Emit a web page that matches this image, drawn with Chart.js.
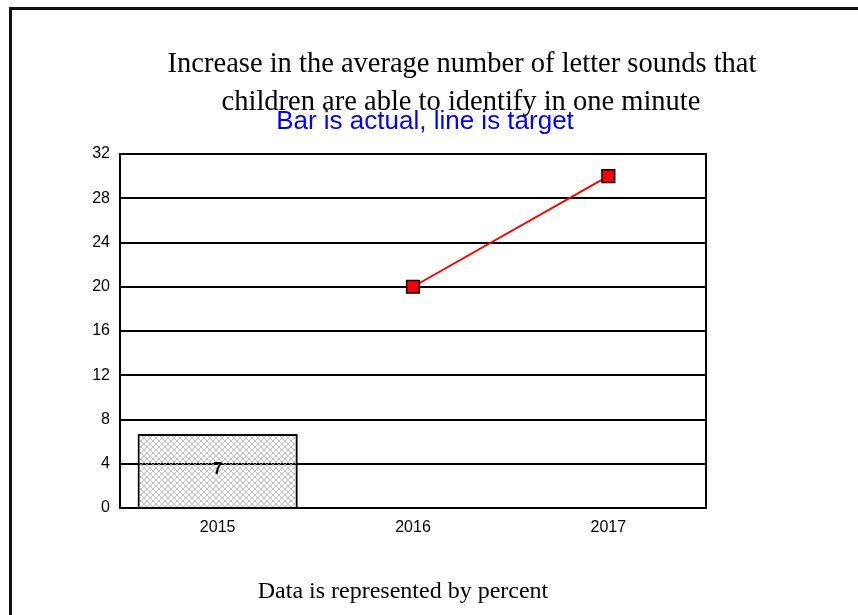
<!DOCTYPE html>
<html>
<head>
<meta charset="utf-8">
<script src="https://cdn.jsdelivr.net/npm/chart.js@4"></script>
<style>
  html, body { margin: 0; padding: 0; background: #fff; }
  #wrap { position: relative; width: 858px; height: 615px; overflow: hidden; }
  #frame { position: absolute; left: 9px; top: 7px; width: 900px; height: 700px;
           border-left: 3px solid #111; border-top: 3px solid #111; box-sizing: border-box; }
  canvas { position: absolute; left: 0; top: 0; }
</style>
</head>
<body>
<div id="wrap">
  <div id="frame"></div>
  <canvas id="c" width="858" height="615"></canvas>
</div>
<script>
const categories = ['2015', '2016', '2017'];
const actualValues = [6.7, null, null];
const actualLabels = ['7', '', ''];
const targetValues = [null, 20, 30];
const yTicks = [0, 4, 8, 12, 16, 20, 24, 28, 32];
const titleLines = ['Increase in the average number of letter sounds that', 'children are able to identify in one minute'];
const subtitleText = 'Bar is actual, line is target';
const footerText = 'Data is represented by percent';

function hatch() {
  const p = document.createElement('canvas');
  p.width = 6; p.height = 6;
  const g = p.getContext('2d');
  g.strokeStyle = '#b0b0b0';
  g.lineWidth = 0.8;
  g.beginPath();
  g.moveTo(0, 0); g.lineTo(6, 6);
  g.moveTo(6, 0); g.lineTo(0, 6);
  g.stroke();
  return document.getElementById('c').getContext('2d').createPattern(p, 'repeat');
}

const textPlugin = {
  id: 'texts',
  afterDraw(chart) {
    const ctx = chart.ctx;
    const a = chart.chartArea;
    ctx.save();
    // plot box
    ctx.strokeStyle = '#000';
    ctx.lineWidth = 2;
    ctx.strokeRect(a.left, a.top, a.right - a.left, a.bottom - a.top);
    // bar labels
    const meta = chart.getDatasetMeta(0);
    ctx.font = 'bold 16px "Liberation Sans", Arial, sans-serif';
    ctx.fillStyle = '#000';
    ctx.textAlign = 'center';
    ctx.textBaseline = 'middle';
    meta.data.forEach((el, i) => {
      if (actualValues[i] == null) return;
      ctx.fillText(actualLabels[i], el.x, (el.y + el.base) / 2 - 1);
    });
    // title
    ctx.font = '28.5px "Liberation Serif", "Times New Roman", serif';
    ctx.textBaseline = 'alphabetic';
    ctx.fillText(titleLines[0], 462, 72);
    ctx.fillText(titleLines[1], 461, 110);
    // subtitle
    ctx.fillStyle = '#0000ff';
    ctx.font = '26px "Liberation Sans", Arial, sans-serif';
    ctx.fillText(subtitleText, 425, 129);
    // footer
    ctx.fillStyle = '#000';
    ctx.font = '24px "Liberation Serif", "Times New Roman", serif';
    ctx.fillText(footerText, 403, 598);
    ctx.restore();
  }
};

new Chart(document.getElementById('c'), {
  type: 'bar',
  data: {
    labels: categories,
    datasets: [
      {
        type: 'bar',
        data: actualValues,
        backgroundColor: hatch(),
        borderColor: '#000',
        borderWidth: 2,
        borderSkipped: 'bottom',
        barPercentage: 0.82,
        categoryPercentage: 1.0,
        order: 2
      },
      {
        type: 'line',
        data: targetValues,
        borderColor: '#ff0000',
        borderWidth: 2,
        pointStyle: 'rect',
        pointRadius: 9,
        pointBackgroundColor: '#ff0000',
        pointBorderColor: '#000',
        pointBorderWidth: 1.5,
        spanGaps: false,
        order: 1
      }
    ]
  },
  options: {
    responsive: false,
    animation: false,
    devicePixelRatio: 1,
    layout: { padding: { left: 0, top: 154, right: 152, bottom: 77 } },
    plugins: { legend: { display: false }, title: { display: false }, tooltip: { enabled: false } },
    scales: {
      x: {
        grid: { display: false, drawTicks: false },
        border: { display: true, color: '#000', width: 2 },
        ticks: { color: '#000', font: { family: '"Liberation Sans", Arial, sans-serif', size: 16 }, padding: 10 },
        afterFit(scale) { scale.height = 30; }
      },
      y: {
        min: 0, max: 32,
        afterBuildTicks(scale) { scale.ticks = yTicks.map(v => ({ value: v })); },
        grid: { color: '#000', lineWidth: 2, drawTicks: false },
        border: { display: true, color: '#000', width: 2 },
        ticks: { color: '#000', font: { family: '"Liberation Sans", Arial, sans-serif', size: 16 }, padding: 10 },
        afterFit(scale) { scale.width = 120; }
      }
    }
  },
  plugins: [textPlugin]
});
</script>
</body>
</html>
